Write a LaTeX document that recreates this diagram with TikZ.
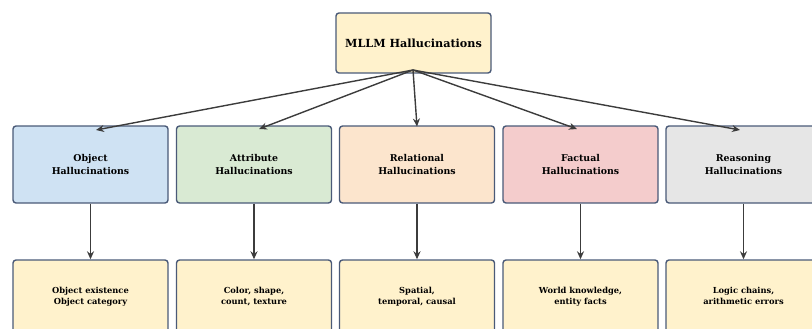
\documentclass[tikz,border=0pt]{standalone}
\usepackage{fontspec}
\setmainfont{DejaVu Serif}
\usetikzlibrary{arrows.meta}
\definecolor{edge}{HTML}{4A5A78}
\definecolor{cyel}{HTML}{FFF2CC}
\definecolor{cblue}{HTML}{CFE2F3}
\definecolor{cgreen}{HTML}{D9EAD3}
\definecolor{corange}{HTML}{FCE5CD}
\definecolor{cred}{HTML}{F4CCCC}
\definecolor{cgray}{HTML}{E6E6E6}
\definecolor{arr}{HTML}{3C3C3C}
\tikzset{
  box/.style={draw=edge, line width=1.4pt, rounded corners=3pt, inner sep=0pt, align=center, font=\bfseries},
  topbox/.style={box, fill=cyel, minimum width=155pt, minimum height=60pt, font=\bfseries\fontsize{11.2}{13}\selectfont},
  midbox/.style={box, minimum width=155pt, minimum height=77pt, font=\bfseries\fontsize{9.4}{13}\selectfont},
  lowbox/.style={box, fill=cyel, minimum width=155pt, minimum height=77pt},
  lowtext/.style={inner sep=0pt, align=center, text depth=2.2pt, font=\bfseries\fontsize{8.3}{11}\selectfont},
  conn/.style={draw=arr, line width=1.4pt, -{Stealth[length=8pt,width=7pt]}}
}
\begin{document}
\begin{tikzpicture}[x=1pt,y=-1pt]
\useasboundingbox (0,0) rectangle (812,329);
\begin{scope}
\clip (0,0) rectangle (812,329);
\node[topbox] (top) at (413.5,43) {MLLM Hallucinations};
\node[midbox, fill=cblue] (m1) at (90.5,164.5) {Object\\Hallucinations};
\node[midbox, fill=cgreen] (m2) at (254,164.5) {Attribute\\Hallucinations};
\node[midbox, fill=corange] (m3) at (417,164.5) {Relational\\Hallucinations};
\node[midbox, fill=cred] (m4) at (580.5,164.5) {Factual\\Hallucinations};
\node[midbox, fill=cgray] (m5) at (743.5,164.5) {Reasoning\\Hallucinations};
\node[lowbox] (b1) at (90.5,298.5) {};
\node[lowbox] (b2) at (254,298.5) {};
\node[lowbox] (b3) at (417,298.5) {};
\node[lowbox] (b4) at (580.5,298.5) {};
\node[lowbox] (b5) at (743.5,298.5) {};
\node[lowtext] (b1t) at (90.5,296.5) {Object existence\\Object category};
\node[lowtext] (b2t) at (254,296.5) {Color, shape,\\count, texture};
\node[lowtext] (b3t) at (417,296.5) {Spatial,\\temporal, causal};
\node[lowtext] (b4t) at (580.5,296.5) {World knowledge,\\entity facts};
\node[lowtext] (b5t) at (743.5,296.5) {Logic chains,\\arithmetic errors};
\coordinate (src) at (413,70);
\coordinate (t1) at (96,130);
\coordinate (t2) at (259,129);
\coordinate (t3) at (417,126.5);
\coordinate (t4) at (577,129);
\coordinate (t5) at (740,130);
\foreach \i in {1,...,5} \draw[conn] (src) -- (t\i);
\foreach \i in {1,...,5} \draw[conn] (m\i.south) -- (b\i.north);
\end{scope}
\end{tikzpicture}
\end{document}
